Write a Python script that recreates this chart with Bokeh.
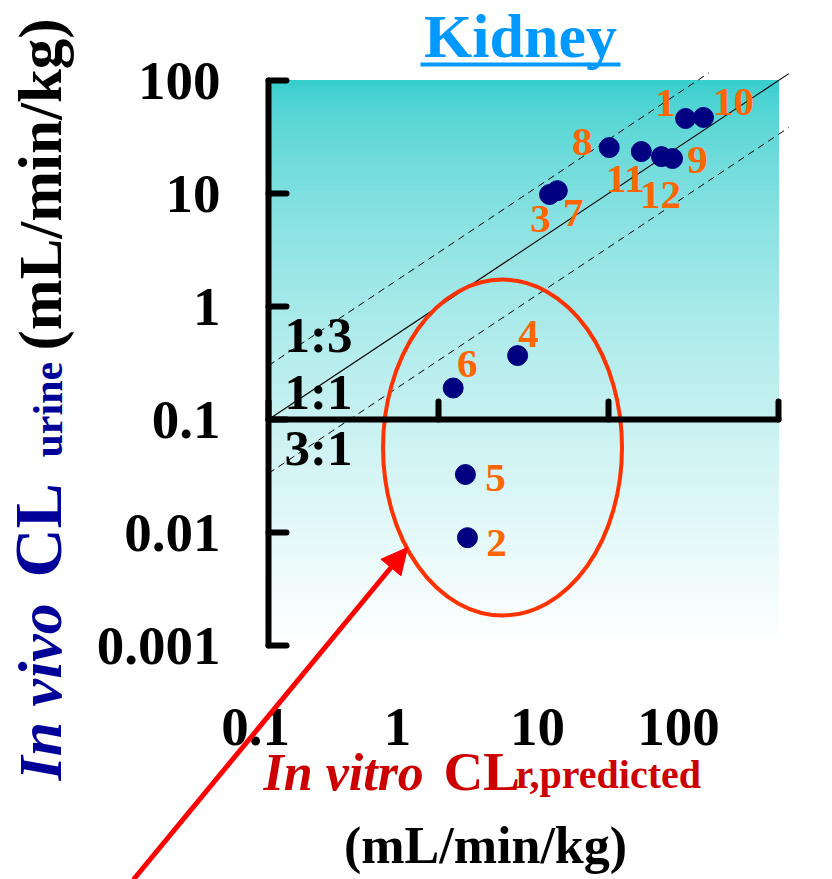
import numpy as np
from bokeh.plotting import figure
from bokeh.models import ColumnDataSource, Range1d, Label, Arrow, NormalHead, BoxAnnotation
from bokeh.core.properties import value
from bokeh.embed import file_html
from bokeh.resources import INLINE

# ---------------- data ----------------
compound_ids = ["1", "2", "3", "4", "5", "6", "7", "8", "9", "10", "11", "12"]
cl_r_predicted = [28.4, 1.48, 4.5, 2.92, 1.44, 1.22, 5.0, 10.1, 23.8, 36.2, 15.6, 20.5]
cl_urine = [46.1, 0.0090, 9.8, 0.368, 0.0326, 0.19, 10.6, 25.5, 20.4, 47.1, 23.5, 21.2]

x_ticks = [0.1, 1, 10, 100]
x_tick_labels = ["0.1", "1", "10", "100"]
y_ticks = [0.001, 0.01, 0.1, 1, 10, 100]
y_tick_labels = ["0.001", "0.01", "0.1", "1", "10", "100"]

ratio_values = [3.0, 1.0, 1.0 / 3.0]
ratio_labels = ["1:3", "1:1", "3:1"]

# highlighted outlier group (ellipse centre, data units)
highlight_center = (2.38, 0.0565)

# ---------------- styling / layout ----------------
label_dx = [-20, 29, -9, 11, 30, 14, 16, -27, 25, 30, -16, -1]
label_dy = [-16, 5, 25, -22, 3, -24, 22, -6, 1, -15, 27, 38]
x_tick_label_dx = [-13, -41, -71, -100]   # labels sit offset from ticks, as in the reference

FONT = "Liberation Serif"
W, H = 832, 879
PL, PR, PT, PB = 268, 778, 80, 645     # plot area (0.1..100 x 0.001..100) in canvas px
XDEC = (PR - PL) / 3.0                 # px per decade
YDEC = (PB - PT) / 5.0

# the frame covers the whole canvas so that every text can be drawn in it
x_lo = 10 ** (-1 - PL / XDEC)
x_hi = 10 ** (2 + (W - PR) / XDEC)
y_lo = 10 ** (-3 - (H - PB) / YDEC)
y_hi = 10 ** (2 + PT / YDEC)

p = figure(width=W, height=H, x_axis_type="log", y_axis_type="log",
           x_range=Range1d(x_lo, x_hi), y_range=Range1d(y_lo, y_hi),
           x_axis_location=None, y_axis_location=None,
           output_backend="svg", toolbar_location=None,
           min_border=0, min_border_left=0, min_border_right=0,
           min_border_top=0, min_border_bottom=0)
p.outline_line_color = None
p.grid.visible = False
p.background_fill_color = "white"
p.border_fill_color = "white"

# gradient background (teal -> white)
edges = np.logspace(-3, 2, 141)
lo, hi = edges[:-1], edges[1:]
mid = (np.log10(lo) + np.log10(hi)) / 2
frac = np.clip((2 - mid) / 5.0, 0, 1) ** 0.62
top_rgb = np.array([51, 204, 204])
cols = []
for f in frac:
    c = top_rgb * (1 - f) + 255 * f
    cols.append("#%02x%02x%02x" % tuple(int(round(v)) for v in c))
p.quad(left=x_ticks[0], right=x_ticks[-1], bottom=lo, top=hi,
       fill_color=cols, line_color=cols, line_width=1)

# ratio lines
for r in ratio_values:
    x_end = min(115.0, 117.0 / r)
    xs = [x_ticks[0], x_end]
    p.line(xs, [v * r for v in xs], line_color="black",
           line_width=1.1 if r == 1.0 else 1.0,
           line_dash="solid" if r == 1.0 else "7 5")

# highlight ellipse
p.ellipse(x=[highlight_center[0]], y=[highlight_center[1]], width=239, height=336,
          width_units="screen", height_units="screen",
          fill_color=None, line_color="#FF3300", line_width=4)

# axes (drawn at x = 0.1 and y = 0.1, ticks pointing inward)
AX = dict(line_color="black", line_width=6, line_cap="round")
p.segment(x0=[x_ticks[0]], y0=[y_ticks[0]], x1=[x_ticks[0]], y1=[y_ticks[-1]], **AX)
p.segment(x0=[x_ticks[0]], y0=[0.1], x1=[x_ticks[-1]], y1=[0.1], **AX)
p.ray(x=x_ticks[0], y=y_ticks, length=18, length_units="screen", angle=0, **AX)
p.ray(x=x_ticks, y=0.1, length=18, length_units="screen", angle=np.pi / 2, **AX)

TXT = dict(text_font=value(FONT), text_font_style="bold", text_color="black")
p.text(x=x_ticks[0], y=y_ticks, text=y_tick_labels, x_offset=-48,
       text_align="right", text_baseline="middle", text_font_size="55px", **TXT)
p.text(x=x_ticks, y=y_ticks[0], text=x_tick_labels, x_offset=x_tick_label_dx, y_offset=81,
       text_align="center", text_baseline="middle", text_font_size="55px", **TXT)

# points and their numbers
src = ColumnDataSource(dict(x=cl_r_predicted, y=cl_urine, t=compound_ids,
                            dx=label_dx, dy=label_dy))
p.scatter("x", "y", source=src, size=20, fill_color="#000080", line_color="#000080")
p.text("x", "y", text="t", source=src, x_offset="dx", y_offset="dy",
       text_font=value(FONT), text_font_style="bold", text_font_size="41px",
       text_color="#FF6600", text_align="center", text_baseline="middle")

MID = 0.39  # distance (em) from the alphabetic baseline to the "middle" anchor


def lab(text, cx, base, size, color, style="bold", align="left", vertical=False):
    """Text whose alphabetic baseline sits at canvas coordinate `base`."""
    if vertical:
        x, y, ang = base - MID * size, H - cx, np.pi / 2
    else:
        x, y, ang = cx, H - (base - MID * size), 0.0
    p.add_layout(Label(x=x, y=y, x_units="screen", y_units="screen", text=text,
                       text_font=FONT, text_font_size=f"{size}px", text_font_style=style,
                       text_color=color, text_align=align, text_baseline="middle",
                       angle=ang))


# title with underline
lab("Kidney", 520, 60, 62, "#0099FF", align="center")
p.add_layout(BoxAnnotation(left=420, right=620, bottom=H - 66, top=H - 62,
                           left_units="screen", right_units="screen",
                           bottom_units="screen", top_units="screen",
                           fill_color="#0099FF", fill_alpha=1, line_color=None))

# ratio labels
for t, base in zip(ratio_labels, [354, 411, 467]):
    lab(t, 284, base, 51, "black")

# y axis title pieces (rotated, reading upward); cx is the start position along the canvas y
lab("In vivo", 780, 64, 62, "#000099", style="bold italic", vertical=True)
lab("CL", 577, 64, 68, "#000099", vertical=True)
lab("urine", 457, 64, 42, "#000099", vertical=True)
lab("(mL/min/kg)", 350, 64, 61, "black", vertical=True)

# x axis title pieces
lab("In vitro", 263, 792, 52, "#CC0000", style="bold italic")
lab("CL", 443, 792, 55, "#CC0000")
lab("r,predicted", 515, 790, 40, "#CC0000")
lab("(mL/min/kg)", 485, 865, 52, "black", align="center")

# arrow pointing at the outlier group
p.add_layout(Arrow(x_start=133, y_start=0, x_end=407, y_end=H - 547,
                   start_units="screen", end_units="screen",
                   line_color="#FF0000", line_width=5,
                   end=NormalHead(size=26, fill_color="#FF0000", line_color="#FF0000")))

open("out.html", "w").write(file_html(p, INLINE))
